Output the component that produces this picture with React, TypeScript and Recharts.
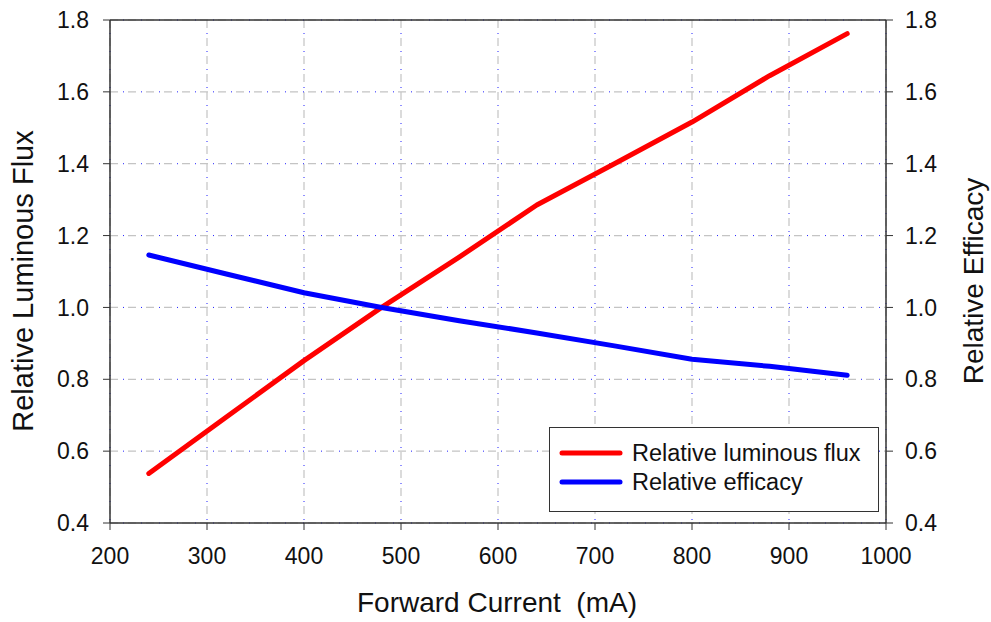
import React from "react";
import {
  LineChart,
  Line,
  XAxis,
  YAxis,
  CartesianGrid,
  ReferenceLine,
  Legend,
  Label,
} from "recharts";

const currents = [240, 320, 400, 480, 560, 640, 720, 800, 880, 960];
const luminousFlux = [0.538, 0.695, 0.852, 1.0, 1.14, 1.285, 1.4, 1.516, 1.645, 1.762];
const efficacy = [1.146, 1.093, 1.041, 1.0, 0.963, 0.929, 0.893, 0.856, 0.836, 0.811];
const seriesNames = ["Relative luminous flux", "Relative efficacy"];
const xTicks = [200, 300, 400, 500, 600, 700, 800, 900, 1000];
const yTicks = [0.4, 0.6, 0.8, 1.0, 1.2, 1.4, 1.6, 1.8];

const data = currents.map((c, i) => ({
  current: c,
  flux: luminousFlux[i],
  efficacy: efficacy[i],
}));

const FONT = "'Liberation Sans', Arial, Helvetica, sans-serif";
const AXIS = "#333333";
const tickStyle = { fontSize: 23, fill: "#111", fontFamily: FONT };

function LegendBox({ payload }: any) {
  // keep the series order, not the alphabetical one
  const items = [...(payload || [])].sort(
    (a: any, b: any) => seriesNames.indexOf(a.value) - seriesNames.indexOf(b.value)
  );
  return (
    <div
      style={{
        width: 330,
        height: 85,
        boxSizing: "border-box",
        border: "1.5px solid #333",
        background: "#fff",
      }}
    >
      <svg width={327} height={82} style={{ display: "block" }}>
        {items.map((it: any, i: number) => (
          <g key={it.value}>
            <line
              x1={12}
              x2={70}
              y1={25 + i * 29}
              y2={25 + i * 29}
              stroke={it.color}
              strokeWidth={5}
              strokeLinecap="round"
            />
            <text
              x={82}
              y={25 + i * 29}
              dy="0.35em"
              fontSize={23.5}
              fontFamily={FONT}
              fill="#111"
            >
              {it.value}
            </text>
          </g>
        ))}
      </svg>
    </div>
  );
}

export default function App() {
  return (
    <div style={{ position: "absolute", left: 0, top: 0, background: "#fff" }}>
      <LineChart
        width={991}
        height={622}
        data={data}
        margin={{ top: 20, right: 0, bottom: 0, left: 0 }}
      >
        <CartesianGrid
          yAxisId="left"
          stroke="#c4c4c4"
          strokeDasharray="8 10"
          strokeWidth={1.2}
        />
        <CartesianGrid
          yAxisId="left"
          stroke="#2020ff"
          strokeDasharray="0 13 1 4"
          strokeWidth={1}
        />
        <XAxis
          dataKey="current"
          type="number"
          domain={[200, 1000]}
          ticks={xTicks}
          height={99}
          tick={tickStyle}
          tickSize={7}
          tickMargin={18}
          tickLine={{ stroke: AXIS }}
          axisLine={{ stroke: AXIS, strokeWidth: 1.5 }}
        >
          <Label
            content={() => (
              <text
                x={497}
                y={612}
                textAnchor="middle"
                fontSize={28}
                fontFamily={FONT}
                fill="#111"
                style={{ whiteSpace: "pre" }}
              >
                {"Forward Current  (mA)"}
              </text>
            )}
          />
        </XAxis>
        <YAxis
          yAxisId="left"
          domain={[0.4, 1.8]}
          ticks={yTicks}
          width={110}
          tick={tickStyle}
          tickFormatter={(v: number) => v.toFixed(1)}
          tickSize={7}
          tickMargin={14}
          tickLine={{ stroke: AXIS }}
          axisLine={{ stroke: AXIS, strokeWidth: 1.5 }}
        >
          <Label
            content={() => (
              <text
                x={33}
                y={281}
                transform="rotate(-90 33 281)"
                textAnchor="middle"
                fontSize={29}
                fontFamily={FONT}
                fill="#111"
              >
                Relative Luminous Flux
              </text>
            )}
          />
        </YAxis>
        <YAxis
          yAxisId="right"
          orientation="right"
          domain={[0.4, 1.8]}
          ticks={yTicks}
          width={105}
          tick={tickStyle}
          tickFormatter={(v: number) => v.toFixed(1)}
          tickSize={7}
          tickMargin={12}
          tickLine={{ stroke: AXIS }}
          axisLine={{ stroke: AXIS, strokeWidth: 1.5 }}
        >
          <Label
            content={() => (
              <text
                x={983}
                y={281}
                transform="rotate(-90 983 281)"
                textAnchor="middle"
                fontSize={28}
                fontFamily={FONT}
                fill="#111"
              >
                Relative Efficacy
              </text>
            )}
          />
        </YAxis>
        <ReferenceLine yAxisId="left" y={1.8} stroke={AXIS} strokeWidth={1.5} />
        <Legend
          layout="horizontal"
          verticalAlign="middle"
          align="center"
          content={<LegendBox />}
          wrapperStyle={{ left: 549, top: 427, width: 330, height: 85 }}
        />
        <Line
          yAxisId="left"
          type="linear"
          dataKey="flux"
          name={seriesNames[0]}
          stroke="#ff0000"
          strokeWidth={5}
          strokeLinecap="round"
          strokeLinejoin="round"
          dot={false}
          isAnimationActive={false}
        />
        <Line
          yAxisId="right"
          type="linear"
          dataKey="efficacy"
          name={seriesNames[1]}
          stroke="#0000ff"
          strokeWidth={5}
          strokeLinecap="round"
          strokeLinejoin="round"
          dot={false}
          isAnimationActive={false}
        />
      </LineChart>
    </div>
  );
}
